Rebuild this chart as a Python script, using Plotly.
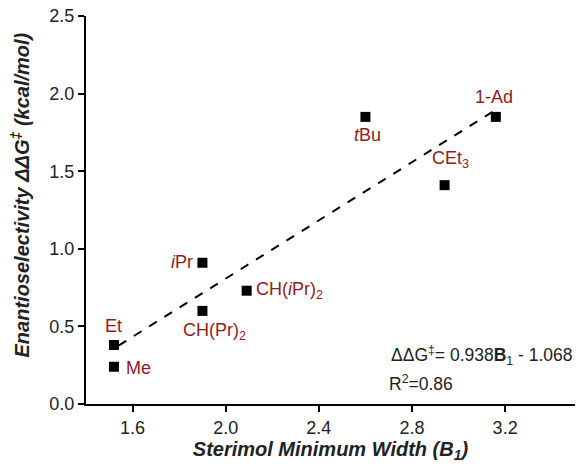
import plotly.graph_objects as go

names = ["Me", "Et", "iPr", "CH(Pr)2", "CH(iPr)2", "tBu", "CEt3", "1-Ad"]
label_html = ["Me", "Et", "<i>i</i>Pr", "CH(Pr)<sub>2</sub>", "CH(<i>i</i>Pr)<sub>2</sub>",
              "<i>t</i>Bu", "CEt<sub>3</sub>", "1-Ad"]
b1 = [1.52, 1.52, 1.90, 1.90, 2.09, 2.60, 2.94, 3.16]
ddg = [0.24, 0.38, 0.91, 0.60, 0.73, 1.85, 1.41, 1.85]
slope, intercept = 0.938, -1.068
fit_x = [1.54, 3.16]
x_ticks = [1.6, 2.0, 2.4, 2.8, 3.2]
y_ticks = [0.0, 0.5, 1.0, 1.5, 2.0, 2.5]

# label offsets (pixels, +y = down) and anchors
label_pos = {
    "Me": (10, 1, "left", "middle"),
    "Et": (0, -7, "center", "bottom"),
    "iPr": (-7, -1, "right", "middle"),
    "CH(Pr)2": (12, 7, "center", "top"),
    "CH(iPr)2": (7, 0, "left", "middle"),
    "tBu": (2, 6, "center", "top"),
    "CEt3": (6, -12, "center", "bottom"),
    "1-Ad": (-2, -8, "center", "bottom"),
}

FONT = "Liberation Sans, Arial, sans-serif"
RED = "#8f1d1d"

fig = go.Figure()
fig.add_trace(go.Scatter(
    x=fit_x, y=[slope * v + intercept for v in fit_x], mode="lines",
    line=dict(color="black", width=2, dash="dash"), showlegend=False, hoverinfo="skip"))
fig.add_trace(go.Scatter(
    x=b1, y=ddg, mode="markers",
    marker=dict(symbol="square", size=10, color="black"), showlegend=False))

for n, lh, xv, yv in zip(names, label_html, b1, ddg):
    dx, dy, xa, ya = label_pos[n]
    fig.add_annotation(x=xv, y=yv, text=lh, showarrow=False, xshift=dx, yshift=-dy,
                       xanchor=xa, yanchor=ya,
                       font=dict(family=FONT, size=18, color=RED))

fig.add_annotation(xref="paper", yref="paper", x=1.0, y=0.126, xanchor="right", yanchor="middle",
                   text="ΔΔG<sup>‡</sup>= 0.938<b>B</b><sub>1</sub> - 1.068", showarrow=False,
                   font=dict(family=FONT, size=17.5, color="#222"))
fig.add_annotation(xref="paper", yref="paper", x=0.615, y=0.054, xanchor="left", yanchor="middle",
                   text="R<sup>2</sup>=0.86", showarrow=False,
                   font=dict(family=FONT, size=17.5, color="#222"))

# y-axis title (placed as rotated annotation to match reference position)
fig.add_annotation(xref="paper", yref="paper", x=-0.135, y=0.54, xanchor="center", yanchor="middle",
                   textangle=-90, showarrow=False,
                   text="<b><i>Enantioselectivity ΔΔG<sup>‡</sup> (kcal/mol)</i></b>",
                   font=dict(size=20, family=FONT, color="#222"))

fig.update_layout(
    width=582, height=465,
    margin=dict(l=86, r=7, t=16, b=61),
    plot_bgcolor="white", paper_bgcolor="white",
    font=dict(family=FONT, color="#222"),
    xaxis=dict(range=[1.4, 3.5], tickvals=x_ticks, ticktext=[f"{v:.1f}" for v in x_ticks],
               showgrid=False, zeroline=False, showline=True, linecolor="black", linewidth=2,
               ticks="outside", ticklen=6, tickwidth=2, tickcolor="black",
               tickfont=dict(size=18, family=FONT, color="#222"),
               title=dict(text="<b><i>Sterimol Minimum Width (B<sub>1</sub>)</i></b>",
                          font=dict(size=20, family=FONT, color="#222"), standoff=2)),
    yaxis=dict(range=[0, 2.5], tickvals=y_ticks, ticktext=[f"{v:.1f}" for v in y_ticks],
               showgrid=False, zeroline=False, showline=True, linecolor="black", linewidth=2,
               ticks="outside", ticklen=6, tickwidth=2, tickcolor="black",
               tickfont=dict(size=18, family=FONT, color="#222")),
)

fig.write_html("out.html")
